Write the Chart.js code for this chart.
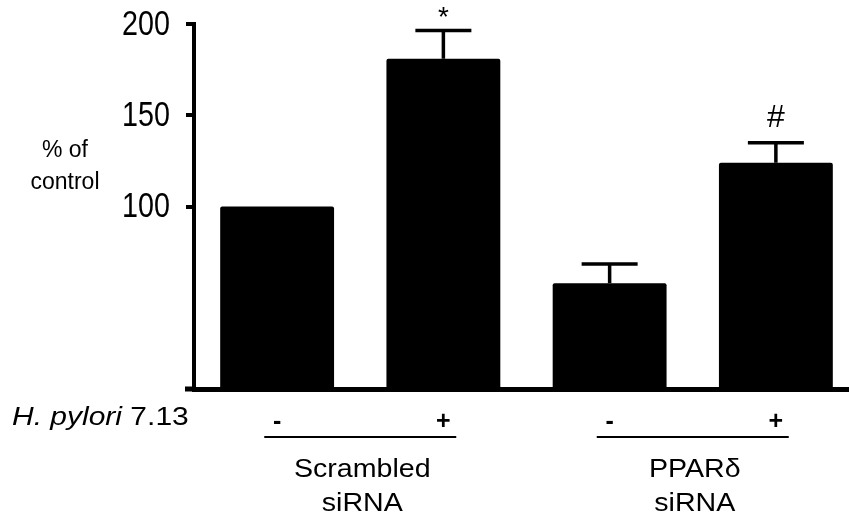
<!DOCTYPE html>
<html>
<head>
<meta charset="utf-8">
<script src="https://cdn.jsdelivr.net/npm/chart.js@4"></script>
<style>
  html, body { margin: 0; padding: 0; background: #fff; overflow: hidden; }
  #wrap { width: 859px; height: 518px; }
</style>
</head>
<body>
<div id="wrap"><canvas id="chart"></canvas></div>
<script>
// values
const hPylori = ["-", "+", "-", "+"];
const means = [100, 181, 58, 124];
const sems = [0, 15.5, 10.5, 11];
const marks = ["", "*", "", "#"];
const groupNames = [["Scrambled", "siRNA"], ["PPAR\u03b4", "siRNA"]];
const yTicks = [100, 150, 200];

const SANS = "'Liberation Sans', Arial, sans-serif";

// error bars + significance marks
const errorBars = {
    id: "errorBars",
    afterDatasetsDraw(chart) {
        const ctx = chart.ctx;
        const y = chart.scales.y;
        const bars = chart.getDatasetMeta(0).data;
        ctx.save();
        ctx.strokeStyle = "#000";
        ctx.fillStyle = "#000";
        ctx.lineWidth = 3.5;
        bars.forEach((bar, i) => {
            if (sems[i] > 0) {
                const top = y.getPixelForValue(means[i] + sems[i]);
                ctx.beginPath();
                ctx.moveTo(bar.x, bar.y);
                ctx.lineTo(bar.x, top);
                ctx.moveTo(bar.x - 28, top);
                ctx.lineTo(bar.x + 28, top);
                ctx.stroke();
            }
            if (marks[i]) {
                const top = y.getPixelForValue(means[i] + sems[i]);
                ctx.textAlign = "center";
                ctx.textBaseline = "middle";
                ctx.font = marks[i] === "*" ? "28px " + SANS : "32px " + SANS;
                ctx.fillText(marks[i], bar.x, top + (marks[i] === "*" ? -12 : -24));
            }
        });
        ctx.restore();
    }
};

// narrow y tick labels, axis title, row label and group labels
const labels = {
    id: "labels",
    afterDraw(chart) {
        const ctx = chart.ctx;
        const x = chart.scales.x;
        const y = chart.scales.y;
        ctx.save();
        ctx.fillStyle = "#000";
        ctx.strokeStyle = "#000";

        // y tick labels, condensed like the original
        ctx.textAlign = "right";
        ctx.textBaseline = "middle";
        ctx.font = "35px " + SANS;
        y.ticks.forEach(t => {
            ctx.save();
            ctx.translate(170, y.getPixelForValue(t.value) + 1);
            ctx.scale(0.82, 1);
            ctx.fillText(String(t.value), 0, 0);
            ctx.restore();
        });

        // x axis line reaches left past the y axis
        ctx.fillRect(185, x.top - 2.5, 10, 5);

        ctx.textAlign = "center";
        ctx.font = "23px " + SANS;
        ctx.fillText("% of", 65, 151);
        ctx.fillText("control", 65, 183);

        // H. pylori 7.13 row label
        ctx.save();
        ctx.translate(12, 418);
        ctx.scale(1.2, 1);
        ctx.textAlign = "left";
        ctx.font = "italic 25px " + SANS;
        ctx.fillText("H. pylori", 0, 0);
        const w = ctx.measureText("H. pylori ").width;
        ctx.font = "25px " + SANS;
        ctx.fillText("7.13", w, 0);
        ctx.restore();

        groupNames.forEach((name, g) => {
            const cx = (x.getPixelForValue(2 * g) + x.getPixelForValue(2 * g + 1)) / 2;
            ctx.lineWidth = 2;
            ctx.beginPath();
            ctx.moveTo(cx - 96, 437);
            ctx.lineTo(cx + 96, 437);
            ctx.stroke();
            ctx.font = "26px " + SANS;
            name.forEach((line, k) => {
                ctx.save();
                ctx.translate(cx + 2, 470 + k * 34);
                ctx.scale(1.1, 1);
                ctx.fillText(line, 0, 0);
                ctx.restore();
            });
        });
        ctx.restore();
    }
};

new Chart(document.getElementById("chart").getContext("2d"), {
    type: "bar",
    data: {
        labels: hPylori,
        datasets: [{
            data: means,
            backgroundColor: "#000",
            borderRadius: 2,
            borderSkipped: "bottom",
            barPercentage: 0.685,
            categoryPercentage: 1
        }]
    },
    options: {
        responsive: true,
        maintainAspectRatio: false,
        animation: false,
        layout: { padding: { top: 24, right: 0, bottom: 0, left: 0 } },
        plugins: {
            legend: { display: false },
            tooltip: { enabled: false }
        },
        scales: {
            x: {
                grid: { display: false },
                border: { display: true, color: "#000", width: 5 },
                ticks: {
                    color: "#000",
                    padding: 10,
                    font: { family: SANS, size: 25, weight: "bold" }
                },
                afterFit(scale) {
                    scale.height = 129;
                    scale.paddingLeft = 0;
                    scale.paddingRight = 0;
                }
            },
            y: {
                min: 0,
                max: 200,
                afterBuildTicks(scale) {
                    scale.ticks = yTicks.map(v => ({ value: v }));
                },
                grid: {
                    drawOnChartArea: false,
                    drawTicks: true,
                    tickLength: 8,
                    color: "#000",
                    lineWidth: 4
                },
                border: { display: true, color: "#000", width: 4 },
                ticks: {
                    color: "rgba(0,0,0,0)",
                    padding: 16,
                    font: { family: SANS, size: 20 }
                },
                afterFit(scale) {
                    scale.width = 194;
                    scale.paddingTop = 0;
                    scale.paddingBottom = 0;
                }
            }
        }
    },
    plugins: [errorBars, labels]
});
</script>
</body>
</html>
